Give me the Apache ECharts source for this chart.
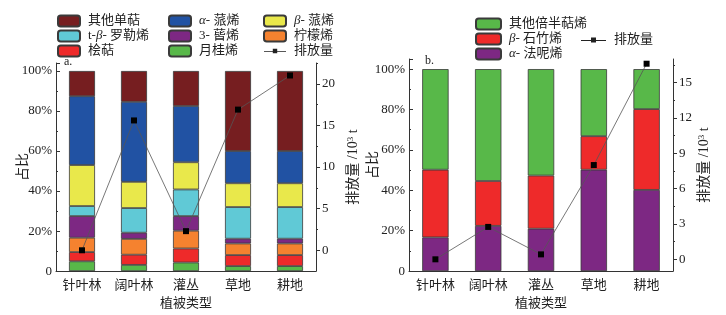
<!DOCTYPE html>
<html>
<head>
<meta charset="utf-8">
<script src="https://cdn.jsdelivr.net/npm/echarts@6/dist/echarts.min.js"></script>
<style>
  html, body { margin: 0; padding: 0; background: #fff; }
  #main { width: 726px; height: 315px; }
</style>
</head>
<body>
<div id="main"></div>
<script>
// 植被类型
var categories = ["针叶林", "阔叶林", "灌丛", "草地", "耕地"];

// a. 单萜 (%)
var myrcene = [4.9, 3.1, 4.3, 2.5, 2.5];          // 月桂烯
var sabinene = [4.6, 5.1, 7.0, 5.5, 5.5];         // 桧萜
var limonene = [7.2, 7.9, 8.9, 5.8, 5.8];         // 柠檬烯
var carene = [10.8, 3.1, 7.3, 2.4, 2.4];          // 3-蒈烯
var ocimene = [5.0, 12.3, 13.3, 15.8, 15.8];      // t-β-罗勒烯
var betaPinene = [20.5, 13.1, 13.6, 11.9, 11.9];  // β-蒎烯
var alphaPinene = [34.4, 40.0, 28.1, 16.1, 16.1]; // α-蒎烯
var otherMono = [12.6, 15.4, 17.5, 40.0, 40.0];   // 其他单萜
var emissionA = [0, 15.6, 2.3, 16.9, 21.0];       // 排放量 /10^3 t

// b. 倍半萜 (%)
var farnesene = [16.7, 22.4, 21.0, 50.2, 40.2];   // α-法呢烯
var caryophyllene = [33.5, 22.2, 26.3, 16.6, 40.0]; // β-石竹烯
var otherSesqui = [49.8, 55.4, 52.7, 33.2, 19.8]; // 其他倍半萜烯
var emissionB = [0, 2.75, 0.42, 8.0, 16.6];

// tick labels
var rightTicksA = [0, 5, 10, 15, 20];
var rightMinorA = [2.5, 7.5, 12.5, 17.5, 22.5];
var rightTicksB = [0, 3, 6, 9, 12, 15];
var rightMinorB = [1.5, 4.5, 7.5, 10.5, 13.5, 16.5];

var FONT = "'Liberation Serif', 'Noto Sans CJK SC', serif";
var AXIS = "#333";
var greek = {
  g: { fontFamily: FONT, fontStyle: "italic", fontSize: 13, lineHeight: 14, color: "#222" }
};
// line + square marker for the 排放量 legend entry
var lineIcon = "path://M0,5.6L25,5.6L25,6.4L0,6.4Z M10,3L15,3L15,8L10,8Z";

function legendFmt(name) {
  return name.replace(/([αβ])/g, "{g|$1}");
}

function barSeries(name, data, color, xi, yi) {
  return {
    name: name,
    type: "bar",
    stack: "s" + xi,
    xAxisIndex: xi,
    yAxisIndex: yi,
    data: data,
    barWidth: "50%",
    itemStyle: { color: color, borderColor: "#3a3a3a", borderWidth: 0.8 }
  };
}

function lineSeries(data, xi, yi) {
  return {
    name: "排放量",
    type: "line",
    xAxisIndex: xi,
    yAxisIndex: yi,
    data: data,
    clip: false,
    z: 5,
    symbol: "rect",
    symbolSize: 6,
    lineStyle: { color: "#555", width: 0.8 },
    itemStyle: { color: "#000" }
  };
}

function pctAxis(gi, max, gap) {
  return {
    type: "value",
    gridIndex: gi,
    min: 0,
    max: max,
    interval: 20,
    name: "占比",
    nameLocation: "middle",
    nameGap: gap,
    nameMoveOverlap: false,
    nameTextStyle: { fontFamily: FONT, fontSize: 14, color: "#222" },
    axisLine: { show: true, lineStyle: { color: AXIS } },
    axisTick: { show: true, inside: true, length: 4, lineStyle: { color: AXIS } },
    minorTick: { show: true, splitNumber: 2, length: 2, lineStyle: { color: AXIS } },
    splitLine: { show: false },
    axisLabel: {
      showMaxLabel: false,
      margin: 4,
      fontFamily: FONT,
      fontSize: 13,
      color: "#222",
      formatter: function (v) { return v === 0 ? "0" : v + "%"; }
    }
  };
}

function rightAxis(gi, min, max, ticks, gap) {
  return {
    type: "value",
    gridIndex: gi,
    position: "right",
    min: min,
    max: max,
    name: "排放量 /10{sup|3} t",
    nameLocation: "middle",
    nameGap: gap,
    nameTextStyle: {
      fontFamily: FONT, fontSize: 14, color: "#222",
      rich: { sup: { fontFamily: FONT, fontSize: 9, verticalAlign: "top", color: "#222", padding: [0, 0, 6, 0] } }
    },
    axisLine: { show: true, lineStyle: { color: AXIS } },
    axisTick: { show: true, length: 4, customValues: ticks, lineStyle: { color: AXIS } },
    splitLine: { show: false },
    axisLabel: {
      customValues: ticks,
      margin: 6,
      fontFamily: FONT,
      fontSize: 13,
      color: "#222"
    }
  };
}

function minorAxis(gi, min, max, ticks) {
  return {
    type: "value",
    gridIndex: gi,
    position: "right",
    min: min,
    max: max,
    axisLine: { show: false },
    axisTick: { show: true, length: 2, customValues: ticks, lineStyle: { color: AXIS } },
    axisLabel: { show: false },
    splitLine: { show: false }
  };
}

function catAxis(gi) {
  return {
    type: "category",
    gridIndex: gi,
    data: categories,
    name: "植被类型",
    nameLocation: "middle",
    nameGap: 25,
    nameTextStyle: { fontFamily: FONT, fontSize: 13, color: "#222" },
    axisLine: { show: true, lineStyle: { color: AXIS } },
    axisTick: { show: false },
    axisLabel: { margin: 8, fontFamily: FONT, fontSize: 13, color: "#222" }
  };
}

function legendBox(left, top, data, w) {
  return {
    left: left,
    top: top,
    orient: "vertical",
    itemWidth: w,
    itemHeight: 11,
    itemGap: 1,
    data: data.map(function (n) {
      return n === "排放量" ? { name: n, icon: lineIcon, itemStyle: { color: "#222", borderWidth: 0 } } : n;
    }),
    selectedMode: false,
    formatter: legendFmt,
    textStyle: { fontFamily: FONT, fontSize: 13, lineHeight: 14, color: "#222", padding: [0, 0, 0, 3], rich: greek }
  };
}

var chart = echarts.init(document.getElementById("main"));
chart.setOption({
  animation: false,
  textStyle: { fontFamily: FONT },
  grid: [
    { left: 56, right: 410, top: 63, bottom: 41 },
    { left: 409, right: 53, top: 59, bottom: 41 }
  ],
  legend: [
    legendBox(52, 9, ["其他单萜", "t-β- 罗勒烯", "桧萜"], 22),
    legendBox(163, 9, ["α- 蒎烯", "3- 蒈烯", "月桂烯"], 22),
    legendBox(258, 9, ["β- 蒎烯", "柠檬烯", "排放量"], 22),
    legendBox(470, 12, ["其他倍半萜烯", "β- 石竹烯", "α- 法呢烯"], 25),
    legendBox(576, 28, ["排放量"], 25)
  ],
  graphic: [
    { id: "tagA", type: "text", z: 100, x: 64, y: 56, style: { text: "a.", font: "12px " + FONT, fill: "#222" } },
    { id: "tagB", type: "text", z: 100, x: 425, y: 55, style: { text: "b.", font: "12px " + FONT, fill: "#222" } }
  ],
  xAxis: [catAxis(0), catAxis(1)],
  yAxis: [
    pctAxis(0, 104, 26),
    rightAxis(0, -2.5, 22.5, rightTicksA, 30),
    minorAxis(0, -2.5, 22.5, rightMinorA),
    pctAxis(1, 105, 29),
    rightAxis(1, -1, 17, rightTicksB, 24),
    minorAxis(1, -1, 17, rightMinorB)
  ],
  series: [
    barSeries("月桂烯", myrcene, "#58b849", 0, 0),
    barSeries("桧萜", sabinene, "#ee2a2a", 0, 0),
    barSeries("柠檬烯", limonene, "#f5822f", 0, 0),
    barSeries("3- 蒈烯", carene, "#7d2883", 0, 0),
    barSeries("t-β- 罗勒烯", ocimene, "#60c9d6", 0, 0),
    barSeries("β- 蒎烯", betaPinene, "#e9e84b", 0, 0),
    barSeries("α- 蒎烯", alphaPinene, "#2152a3", 0, 0),
    barSeries("其他单萜", otherMono, "#761e20", 0, 0),
    lineSeries(emissionA, 0, 1),
    barSeries("α- 法呢烯", farnesene, "#7d2883", 1, 3),
    barSeries("β- 石竹烯", caryophyllene, "#ee2a2a", 1, 3),
    barSeries("其他倍半萜烯", otherSesqui, "#58b849", 1, 3),
    lineSeries(emissionB, 1, 4)
  ]
});
</script>
</body>
</html>
